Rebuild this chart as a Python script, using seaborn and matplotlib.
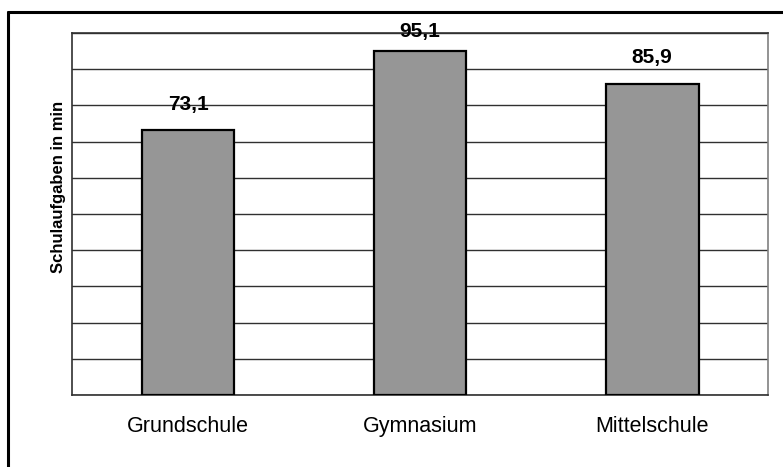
import matplotlib
matplotlib.use("Agg")
import matplotlib.pyplot as plt
from matplotlib.lines import Line2D
import seaborn as sns
import pandas as pd

# data
schools = ["Grundschule", "Gymnasium", "Mittelschule"]
minutes = [73.1, 95.1, 85.9]
value_labels = ["73,1", "95,1", "85,9"]

sns.set_style("white")
plt.rcParams["font.family"] = ["Liberation Sans", "DejaVu Sans"]
plt.rcParams["text.color"] = "black"
plt.rcParams["axes.labelcolor"] = "black"
plt.rcParams["xtick.labelcolor"] = "black"

df = pd.DataFrame({"Schule": schools, "Minuten": minutes})

fig = plt.figure(figsize=(7.83, 4.67), dpi=100)
ax = fig.add_axes([0.092, 0.1542, 0.889, 0.7752])

sns.barplot(
    data=df, x="Schule", y="Minuten",
    color="#969696", saturation=1, width=0.4,
    edgecolor="black", linewidth=1.6, ax=ax, zorder=3,
)

ax.set_ylim(0, 100)
ax.set_xlim(-0.5, 2.5)
ax.set_yticks(range(0, 101, 10))
ax.set_yticklabels([])
ax.tick_params(axis="y", length=0)
ax.grid(axis="y", color="#303030", linewidth=1.0, zorder=0)
ax.set_axisbelow(True)

# category ticks sit on the boundaries
ax.set_xticks([-0.5, 0.5, 1.5, 2.5], minor=True)
ax.tick_params(axis="x", which="minor", length=6, width=1.2, color="#404040", direction="out")
ax.tick_params(axis="x", which="major", length=0, pad=15, labelsize=15.5, labelcolor="black")
ax.set_xlabel("")

ax.set_ylabel("Schulaufgaben in min", fontsize=12, fontweight="bold", color="black")
ax.yaxis.set_label_coords(-0.009, 0.575)

for side in ["left", "top", "bottom"]:
    ax.spines[side].set_color("#303030")
    ax.spines[side].set_linewidth(1.2)
ax.spines["right"].set_color("#808080")
ax.spines["right"].set_linewidth(1.2)

for i, (v, lab) in enumerate(zip(minutes, value_labels)):
    ax.text(i, min(v + 7.2, 100.4), lab, ha="center", va="center", color="black",
            fontsize=15, fontweight="bold", zorder=5, clip_on=False)

# outer chart frame (only top and left visible in the crop)
fig.add_artist(Line2D([8 / 783, 1.0], [1 - 12 / 467, 1 - 12 / 467],
                      color="black", linewidth=2.2, transform=fig.transFigure))
fig.add_artist(Line2D([8 / 783, 8 / 783], [0.0, 1 - 12 / 467],
                      color="black", linewidth=2.2, transform=fig.transFigure))

fig.savefig("out.png", dpi=100)
